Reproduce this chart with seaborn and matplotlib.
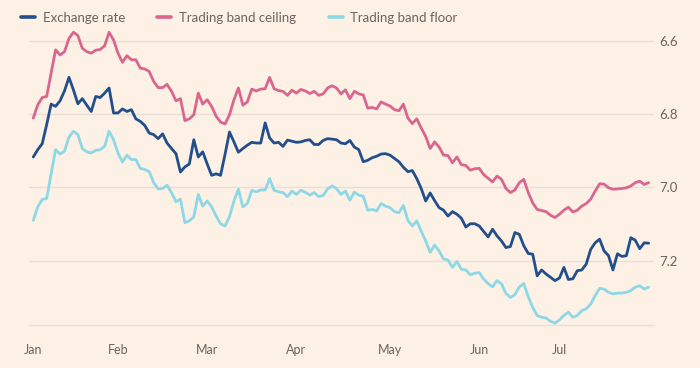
import matplotlib
matplotlib.use("Agg")
import matplotlib.pyplot as plt
import seaborn as sns
import pandas as pd
from matplotlib.lines import Line2D

# ---- data (trading-day index, value) ----
band_days = [0, 1, 2, 3, 5, 6, 7, 8, 9, 10, 11, 12, 13, 14, 15, 16, 17, 18, 19, 20,
             21, 22, 23, 24, 25, 26, 27, 28, 29, 30, 31, 32, 33, 34, 35, 36, 37, 38, 39, 40,
             41, 42, 43, 44, 45, 46, 47, 48, 49, 50, 51, 52, 53, 54, 55, 56, 57, 58, 59, 60,
             61, 62, 63, 64, 65, 66, 67, 68, 69, 70, 71, 72, 73, 74, 75, 76, 77, 78, 79, 80,
             81, 82, 83, 84, 85, 86, 87, 88, 89, 90, 91, 92, 93, 94, 95, 96, 97, 98, 99, 100,
             101, 102, 103, 104, 105, 106, 107, 108, 109, 110, 111, 112, 113, 114, 115, 116,
             117, 118, 119, 120, 121, 122, 123, 124, 125, 126, 127, 128, 129, 130, 131, 132,
             133, 134, 135, 136, 137, 138]

ceiling = [6.811, 6.775, 6.755, 6.752, 6.625, 6.639, 6.630, 6.594, 6.577, 6.586, 6.621, 6.630,
           6.634, 6.626, 6.624, 6.614, 6.577, 6.598, 6.634, 6.659, 6.641, 6.652, 6.652, 6.675,
           6.677, 6.684, 6.711, 6.728, 6.728, 6.719, 6.738, 6.764, 6.758, 6.818, 6.813, 6.802,
           6.743, 6.773, 6.761, 6.779, 6.806, 6.822, 6.827, 6.802, 6.761, 6.729, 6.776, 6.767,
           6.732, 6.737, 6.732, 6.731, 6.700, 6.731, 6.736, 6.738, 6.749, 6.735, 6.743, 6.733,
           6.737, 6.744, 6.738, 6.749, 6.745, 6.729, 6.723, 6.729, 6.745, 6.734, 6.758, 6.738,
           6.745, 6.748, 6.784, 6.782, 6.786, 6.767, 6.773, 6.778, 6.788, 6.791, 6.773, 6.811,
           6.826, 6.813, 6.838, 6.861, 6.894, 6.876, 6.890, 6.912, 6.913, 6.933, 6.917, 6.938,
           6.940, 6.953, 6.949, 6.948, 6.965, 6.975, 6.985, 6.969, 6.978, 7.003, 7.014, 7.007,
           6.987, 6.978, 7.014, 7.042, 7.060, 7.063, 7.066, 7.076, 7.082, 7.073, 7.062, 7.054,
           7.067, 7.062, 7.051, 7.044, 7.032, 7.010, 6.990, 6.991, 7.001, 7.005, 7.004, 7.003,
           7.001, 6.996, 6.987, 6.983, 6.992, 6.987]

floor = [7.090, 7.053, 7.033, 7.030, 6.897, 6.909, 6.901, 6.863, 6.847, 6.856, 6.894, 6.903,
         6.906, 6.899, 6.897, 6.888, 6.847, 6.870, 6.906, 6.931, 6.912, 6.924, 6.924, 6.948,
         6.951, 6.957, 6.987, 7.004, 7.003, 6.994, 7.014, 7.039, 7.032, 7.096, 7.091, 7.080,
         7.019, 7.051, 7.037, 7.053, 7.078, 7.099, 7.105, 7.080, 7.037, 7.005, 7.053, 7.044,
         7.008, 7.012, 7.007, 7.007, 6.976, 7.008, 7.012, 7.014, 7.025, 7.010, 7.019, 7.008,
         7.013, 7.021, 7.014, 7.025, 7.022, 7.004, 6.996, 7.003, 7.019, 7.010, 7.035, 7.013,
         7.021, 7.024, 7.062, 7.060, 7.064, 7.044, 7.051, 7.055, 7.066, 7.069, 7.049, 7.090,
         7.105, 7.091, 7.119, 7.146, 7.177, 7.157, 7.173, 7.195, 7.198, 7.218, 7.202, 7.223,
         7.225, 7.238, 7.234, 7.232, 7.250, 7.262, 7.271, 7.254, 7.263, 7.289, 7.300, 7.292,
         7.271, 7.262, 7.298, 7.327, 7.349, 7.354, 7.356, 7.365, 7.370, 7.361, 7.349, 7.340,
         7.354, 7.349, 7.336, 7.331, 7.318, 7.295, 7.275, 7.277, 7.286, 7.290, 7.288, 7.288,
         7.286, 7.281, 7.272, 7.268, 7.277, 7.272]

rate_days = [0, 1, 2, 3, 4, 5, 6, 7, 8, 9, 10, 11, 12, 13, 14, 15, 16, 17, 18, 19, 20,
             21, 22, 23, 24, 25, 26, 27, 28, 29, 30, 31, 32, 33, 34, 35, 36, 37, 38, 39, 40,
             41, 42, 43, 44, 45, 46, 47, 48, 49, 50, 51, 52, 53, 54, 55, 56, 57, 58, 59, 60,
             61, 62, 63, 64, 65, 66, 68, 69, 70, 71, 72, 73, 74, 75, 76, 77, 78, 79, 80,
             81, 82, 83, 84, 85, 86, 87, 88, 89, 90, 91, 92, 93, 94, 95, 96, 97, 98, 99, 100,
             101, 102, 103, 104, 105, 106, 107, 108, 109, 110, 111, 112, 113, 114, 115, 116,
             117, 118, 119, 120, 121, 122, 123, 124, 125, 126, 127, 128, 129, 130, 131, 132,
             133, 134, 135, 136, 137, 138]

exchange_rate = [6.917, 6.897, 6.881, 6.829, 6.773, 6.779, 6.764, 6.737, 6.700, 6.734, 6.772,
                 6.758, 6.776, 6.793, 6.752, 6.755, 6.743, 6.729, 6.797, 6.797, 6.786, 6.793,
                 6.788, 6.813, 6.820, 6.831, 6.852, 6.856, 6.867, 6.854, 6.879, 6.894, 6.908,
                 6.958, 6.944, 6.936, 6.870, 6.917, 6.903, 6.936, 6.967, 6.963, 6.967, 6.910,
                 6.849, 6.876, 6.904, 6.894, 6.885, 6.877, 6.879, 6.879, 6.824, 6.865, 6.879,
                 6.877, 6.888, 6.871, 6.874, 6.877, 6.876, 6.872, 6.870, 6.883, 6.883, 6.872,
                 6.867, 6.870, 6.879, 6.881, 6.872, 6.890, 6.897, 6.930, 6.926, 6.919, 6.915,
                 6.909, 6.908, 6.912, 6.921, 6.930, 6.945, 6.957, 6.954, 6.976, 7.003, 7.037,
                 7.015, 7.036, 7.055, 7.062, 7.078, 7.066, 7.073, 7.084, 7.108, 7.099, 7.099,
                 7.105, 7.120, 7.135, 7.114, 7.132, 7.146, 7.164, 7.161, 7.123, 7.128, 7.159,
                 7.180, 7.182, 7.241, 7.225, 7.236, 7.245, 7.254, 7.247, 7.218, 7.251, 7.249,
                 7.227, 7.225, 7.209, 7.169, 7.151, 7.141, 7.173, 7.186, 7.225, 7.181, 7.188,
                 7.186, 7.137, 7.144, 7.167, 7.151, 7.152]

series_names = ["Exchange rate", "Trading band ceiling", "Trading band floor"]
month_labels = ["Jan", "Feb", "Mar", "Apr", "May", "Jun", "Jul"]
month_ticks = [0, 19, 39, 59, 80, 100, 118]
week_ticks = [4, 9, 14, 24, 29, 34, 44, 49, 54, 63, 68, 73, 85, 90, 95, 105, 110, 113,
              123, 128, 133, 138]
y_ticks = [6.6, 6.8, 7.0, 7.2]
y_tick_labels = ["6.6", "6.8", "7.0", "7.2"]

# ---- styling ----
BG = "#FDF0E5"
GRID = "#E9DFD6"
TEXT = "#6B6460"
colors = {"Exchange rate": "#234E8C",
          "Trading band ceiling": "#D9668E",
          "Trading band floor": "#8DD8E6"}

frames = [
    pd.DataFrame({"day": rate_days, "value": exchange_rate, "series": series_names[0]}),
    pd.DataFrame({"day": band_days, "value": ceiling, "series": series_names[1]}),
    pd.DataFrame({"day": band_days, "value": floor, "series": series_names[2]}),
]
df = pd.concat(frames, ignore_index=True)

sns.set_theme(style="white")
plt.rcParams["font.family"] = ["Lato", "DejaVu Sans"]

fig = plt.figure(figsize=(7.0, 3.68), dpi=100, facecolor=BG)
ax = fig.add_axes([29 / 700, 1 - 325 / 368, (654 - 29) / 700, (325 - 26) / 368])
ax.set_facecolor(BG)

for y in y_ticks:
    ax.axhline(y, color=GRID, lw=1.0, zorder=0)

for name in [series_names[2], series_names[1], series_names[0]]:
    sns.lineplot(data=df[df["series"] == name], x="day", y="value", ax=ax,
                 color=colors[name], linewidth=2.0, estimator=None, sort=False,
                 legend=False, zorder=3)

ax.set_xlim(-0.96, 139.2)
ax.set_ylim(7.375, 6.56)

for s in ["top", "left", "right"]:
    ax.spines[s].set_visible(False)
ax.spines["bottom"].set_color(GRID)
ax.spines["bottom"].set_linewidth(1.0)

ax.set_xticks(month_ticks)
ax.set_xticklabels(month_labels)
ax.set_xticks(week_ticks, minor=True)
ax.tick_params(axis="x", which="major", length=6.5, width=0.8, color="#DCD0C6",
               labelsize=9, labelcolor=TEXT, pad=7)
ax.tick_params(axis="x", which="minor", length=4.5, width=0.8, color="#DCD0C6")

ax.yaxis.tick_right()
ax.set_yticks(y_ticks)
ax.set_yticklabels(y_tick_labels)
ax.tick_params(axis="y", length=0, labelsize=9.5, labelcolor=TEXT, pad=4)
ax.set_xlabel("")
ax.set_ylabel("")

handles = [Line2D([0], [0], color=colors[n], lw=2.6) for n in series_names]
leg = fig.legend(handles, series_names, loc="center left",
                 bbox_to_anchor=(21 / 700, 1 - 18 / 368),
                 ncol=3, frameon=False, handlelength=1.05, handletextpad=0.6,
                 columnspacing=2.45, fontsize=9.5, labelcolor=TEXT,
                 borderpad=0, borderaxespad=0)

fig.savefig("out.png", dpi=100, facecolor=BG)
